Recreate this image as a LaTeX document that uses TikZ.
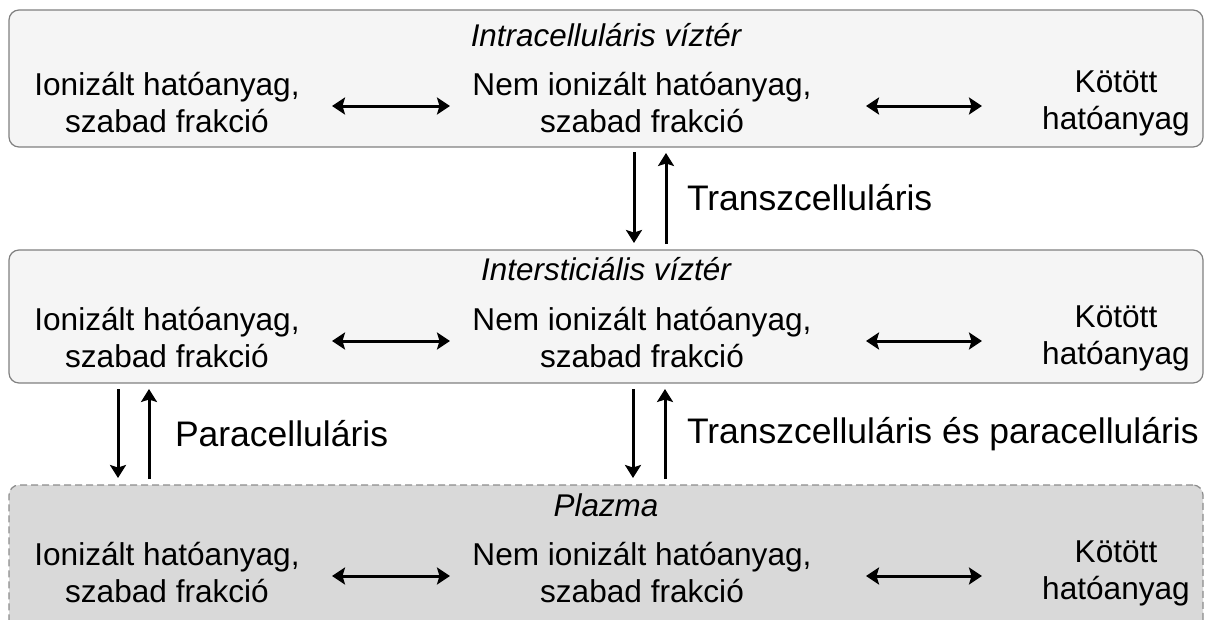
\documentclass[tikz,border=0pt]{standalone}
\usepackage{fontspec}
\setmainfont{Liberation Sans}
\usetikzlibrary{arrows.meta}
\begin{document}
\begin{tikzpicture}[x=1pt,y=-1pt,
  every node/.style={inner sep=0pt,outer sep=0pt},
  lbl/.style={font=\fontsize{31.6}{37}\selectfont,align=center,text=black},
  big/.style={font=\fontsize{35.5}{40}\selectfont,text=black},
  ttl/.style={font=\fontsize{31.4}{37}\selectfont\itshape,text=black},
  panel/.style={draw=black!50,line width=1.2pt,rounded corners=10pt,fill=black!4},
  plasma/.style={draw=black!45,line width=1.2pt,rounded corners=10pt,fill=black!15,dash pattern=on 7pt off 4pt},
  arr/.style={line width=3pt,-{Stealth[length=13pt,width=16pt,inset=2.5pt]}},
  darr/.style={line width=3pt,{Stealth[length=13pt,width=17pt,inset=2.5pt]}-{Stealth[length=13pt,width=17pt,inset=2.5pt]}}
]
\useasboundingbox (0,0) rectangle (1213,619);
% panels
\node[panel,minimum width=1194pt,minimum height=137pt] (p1) at (606,78.5) {};
\node[panel,minimum width=1194pt,minimum height=133pt] (p2) at (606,316.5) {};
\node[plasma,minimum width=1194pt,minimum height=150pt] (p3) at (606,560) {};
% titles
\node[ttl] (t1) at (606,35) {Intracelluláris víztér};
\node[ttl] (t2) at (606,269) {Intersticiális víztér};
\node[ttl] (t3) at (606,505) {Plazma};
% row texts
\foreach \i/\y in {1/103,2/338,3/573}{
  \node[lbl] (ion\i) at (167,\y) {Ionizált hatóanyag,\\szabad frakció};
  \node[lbl] (nem\i) at (642,\y) {Nem ionizált hatóanyag,\\szabad frakció};
  \node[lbl] (kot\i) at (1116,\y) {Kötött\\hatóanyag};
  \coordinate (la\i) at (332,\y+3);
  \coordinate (lb\i) at (450,\y+3);
  \coordinate (ra\i) at (866,\y+3);
  \coordinate (rb\i) at (982,\y+3);
  \draw[darr] (la\i) -- (lb\i);
  \draw[darr] (ra\i) -- (rb\i);
}
% vertical arrows
\coordinate (d1a) at (634,152); \coordinate (d1b) at (634,243);
\coordinate (u1a) at (666,244); \coordinate (u1b) at (666,153);
\draw[arr] (d1a) -- (d1b);
\draw[arr] (u1a) -- (u1b);
\node[big,anchor=west] (tr1) at (687,198) {Transzcelluláris};
\coordinate (d2a) at (118,389); \coordinate (d2b) at (118,478);
\coordinate (u2a) at (149,479); \coordinate (u2b) at (149,389);
\draw[arr] (d2a) -- (d2b);
\draw[arr] (u2a) -- (u2b);
\node[big,anchor=west] (pc) at (175,434) {Paracelluláris};
\coordinate (d3a) at (633,389); \coordinate (d3b) at (633,478);
\coordinate (u3a) at (665,479); \coordinate (u3b) at (665,389);
\draw[arr] (d3a) -- (d3b);
\draw[arr] (u3a) -- (u3b);
\node[big,anchor=west] (tp) at (687,434) {Transzcelluláris és paracelluláris};
\end{tikzpicture}
\end{document}
